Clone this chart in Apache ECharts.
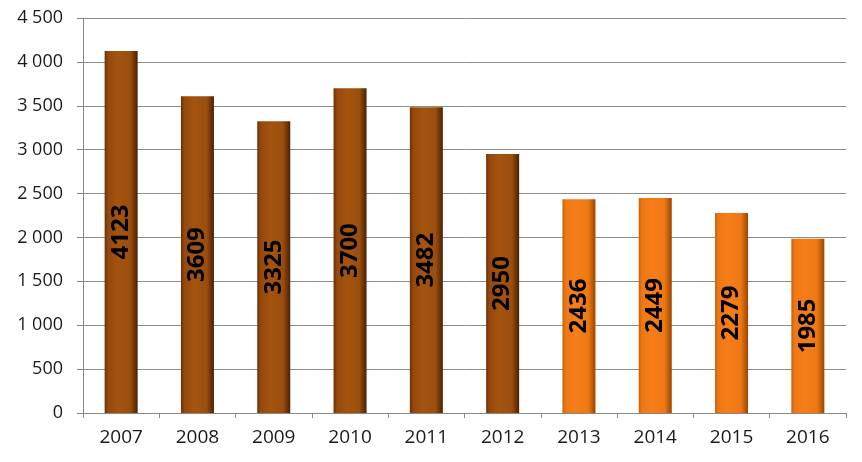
<!DOCTYPE html>
<html><head><meta charset="utf-8">
<script src="https://cdn.jsdelivr.net/npm/echarts@6/dist/echarts.min.js"></script>
<style>html,body{margin:0;padding:0;background:#fff}#c{width:862px;height:462px}</style>
</head><body><div id="c"></div>
<script>
var years = ['2007','2008','2009','2010','2011','2012','2013','2014','2015','2016'];
var values = [4123,3609,3325,3700,3482,2950,2436,2449,2279,1985];
var groups = ['dark','dark','dark','dark','dark','dark','light','light','light','light'];

function grad(kind){
  if(kind==='dark'){
    return new echarts.graphic.LinearGradient(0,0,1,0,[
      {offset:0,color:'#6a3006'},{offset:0.1,color:'#94480c'},{offset:0.4,color:'#a4540f'},
      {offset:0.78,color:'#9a4e0e'},{offset:1,color:'#4a2002'}]);
  }
  return new echarts.graphic.LinearGradient(0,0,1,0,[
    {offset:0,color:'#c85e08'},{offset:0.1,color:'#ee7814'},{offset:0.4,color:'#f57e1a'},
    {offset:0.78,color:'#ee7814'},{offset:1,color:'#9a4600'}]);
}
var data = values.map(function(v,i){return {value:v,itemStyle:{color:grad(groups[i])}};});

var chart = echarts.init(document.getElementById('c'));
chart.setOption({
  animation:false,
  grid:{left:83,right:16,top:18,bottom:49},
  xAxis:{type:'category',data:years,
    axisLine:{lineStyle:{color:'#888',width:1}},
    axisTick:{show:true,length:5,lineStyle:{color:'#888'}},
    axisLabel:{color:'#1a1a1a',fontSize:19,fontFamily:'Open Sans',margin:15}},
  yAxis:{type:'value',min:0,max:4500,interval:500,
    axisLine:{show:true,lineStyle:{color:'#888',width:1}},
    axisTick:{show:true,length:6,lineStyle:{color:'#888'}},
    splitLine:{lineStyle:{color:'#8c8c8c',width:1}},
    axisLabel:{color:'#1a1a1a',fontSize:18,fontFamily:'Open Sans',margin:20,
      formatter:function(v){return String(v).replace(/\B(?=(\d{3})+(?!\d))/g,' ');}}},
  series:[{type:'bar',data:data,barWidth:33,
    label:{show:true,position:'inside',rotate:90,color:'#000',fontSize:24,fontWeight:'bold',fontFamily:'Open Sans'}}]
});
</script></body></html>
